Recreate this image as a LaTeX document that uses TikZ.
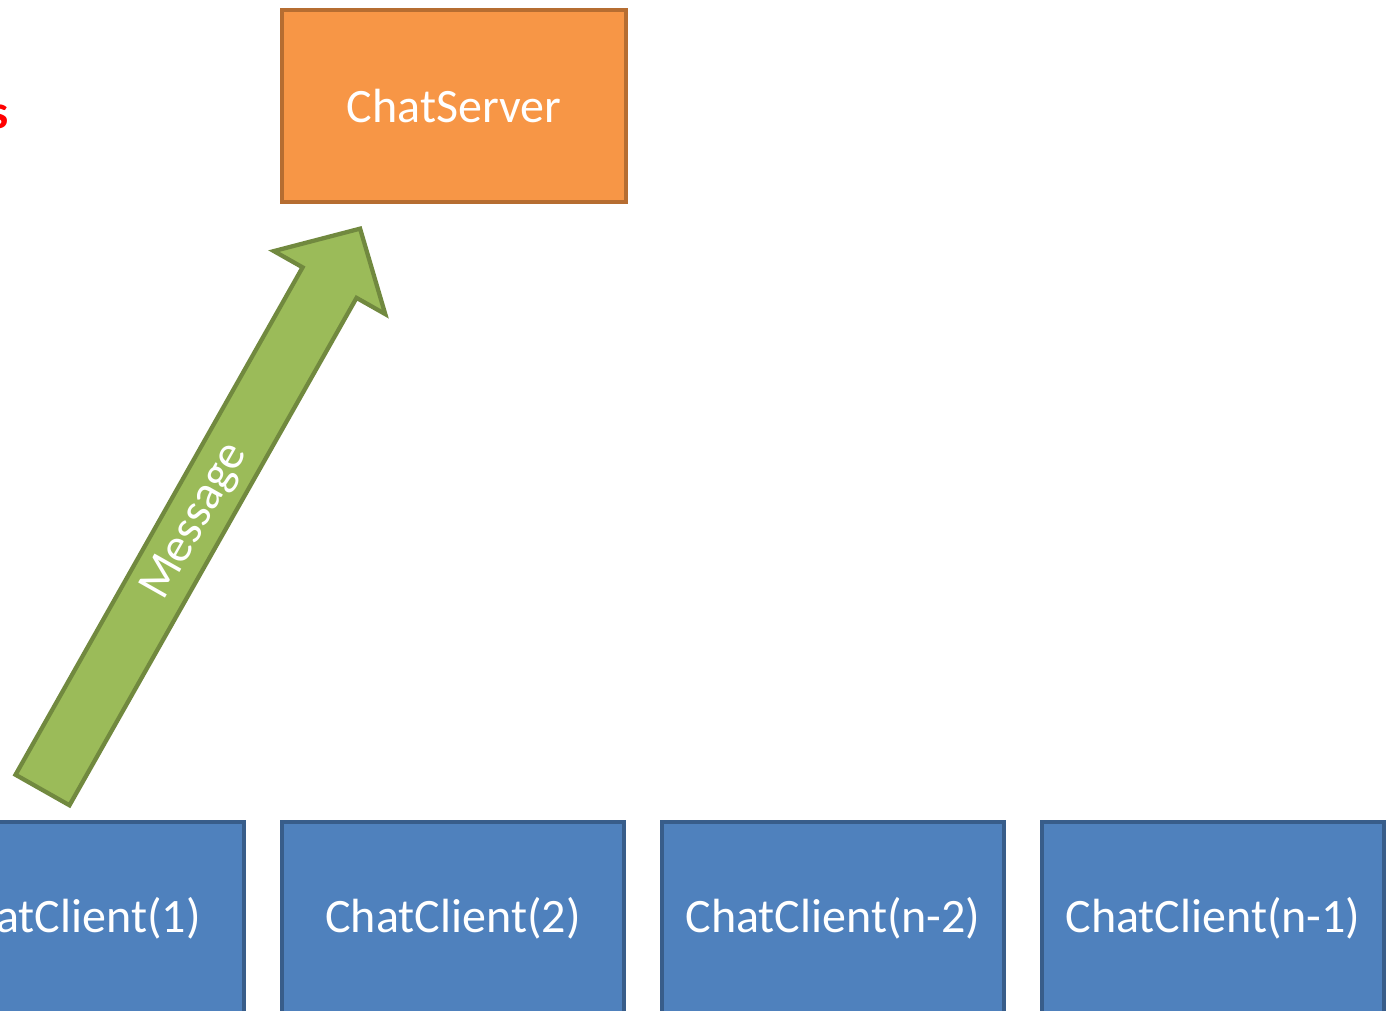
\documentclass[tikz,border=0pt]{standalone}
\usepackage{fontspec}
\setmainfont{Carlito}
\definecolor{srvfill}{HTML}{F79646}
\definecolor{srvline}{HTML}{B66D31}
\definecolor{clifill}{HTML}{4F81BD}
\definecolor{cliline}{HTML}{385D8A}
\definecolor{arrfill}{HTML}{9BBB59}
\definecolor{arrline}{HTML}{71893F}
\tikzset{
  boxtext/.style={font=\fontsize{36}{40}\selectfont, text=white},
  server/.style={boxtext, rectangle, draw=srvline, fill=srvfill, line width=3pt,
    minimum width=344*0.75pt, minimum height=192*0.75pt, inner sep=0pt},
  client/.style={boxtext, rectangle, draw=cliline, fill=clifill, line width=3pt,
    minimum width=342*0.75pt, minimum height=194*0.75pt, inner sep=0pt},
  blockarrow/.style={draw=arrline, fill=arrfill, line width=3.2pt, line join=miter},
}
\begin{document}
\begin{tikzpicture}[x=0.75pt, y=-0.75pt]
  \useasboundingbox (0,0) rectangle (1388,1010);

  % caption fragment at the left edge
  \node[anchor=base east, inner sep=0pt, text=red, font=\fontsize{36}{40}\selectfont\bfseries]
    (caption) at (9,128) {s};

  % server
  \node[server] (server) at (454,106) {ChatServer};

  % clients along the bottom row
  \node[client] (c1) at (73,918.5)   {ChatClient(1)};
  \node[client] (c2) at (453,918.5)  {ChatClient(2)};
  \node[client] (c3) at (833,918.5)  {ChatClient(n-2)};
  \node[client] (c4) at (1213,918.5) {ChatClient(n-1)};

  % block arrow carrying a message from the first client up to the server
  \coordinate (tail) at (42.5,790);
  \begin{scope}[shift={(tail)}, rotate=60.5]
    \draw[blockarrow] (0,31) -- (583,31) -- (583,64) -- (645,0)
      -- (583,-64) -- (583,-31) -- (0,-31) -- cycle;
    \node[boxtext, rotate=60.5, inner sep=0pt] (msg) at (309,1) {Message};
  \end{scope}
\end{tikzpicture}
\end{document}
